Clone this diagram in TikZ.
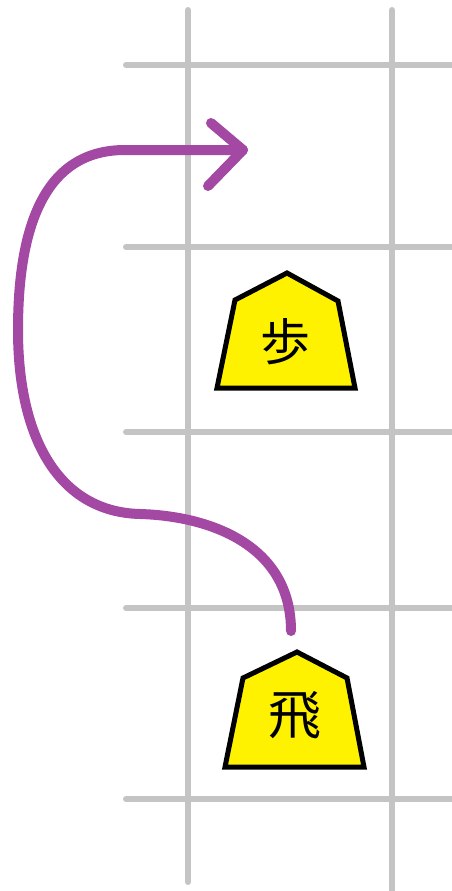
\documentclass[tikz,border=0pt]{standalone}
\usepackage{fontspec}
\newfontfamily\cjk{Noto Sans CJK JP}
\definecolor{gridgray}{RGB}{196,196,196}
\definecolor{pathpurple}{RGB}{163,73,164}
\definecolor{pieceyellow}{RGB}{255,242,0}
\begin{document}
\begin{tikzpicture}[x=1pt,y=-1pt,
  gridline/.style={draw=gridgray,line width=6pt,line cap=round},
  piecebody/.style={draw=black,fill=pieceyellow,line width=5pt,line join=miter},
  piecelabel/.style={inner sep=0pt,font=\cjk\fontsize{50}{50}\selectfont},
  movepath/.style={draw=pathpurple,line width=10pt,line cap=round,line join=round}]
\useasboundingbox (0,0) rectangle (452,891);
% grid
\draw[gridline] (188,10) -- (188,882);
\draw[gridline] (392,10) -- (392,895);
\foreach \yy in {65,247,432,608,799}{
  \draw[gridline] (126,\yy) -- (456,\yy);
}
% pawn
\draw[piecebody] (287,273) -- (338,301) -- (355,388) -- (217,388) -- (235,300) -- cycle;
\node[piecelabel] (fu) at (285,342) {歩};
% rook
\draw[piecebody] (297,652) -- (347,678) -- (364,767) -- (225,767) -- (243,678) -- cycle;
\node[piecelabel,font=\cjk\fontsize{53}{53}\selectfont] (hi) at (295,715) {飛};
% move path
\coordinate (start) at (291,631);
\coordinate (tip) at (243,150);
\draw[movepath] (start) .. controls (291,545) and (210,516) .. (140,514)
  .. controls (60,512) and (18,440) .. (18,330)
  .. controls (18,220) and (48,150) .. (125,150) -- (tip);
\draw[movepath] (211,123) -- (tip) -- (208,186);
\end{tikzpicture}
\end{document}
